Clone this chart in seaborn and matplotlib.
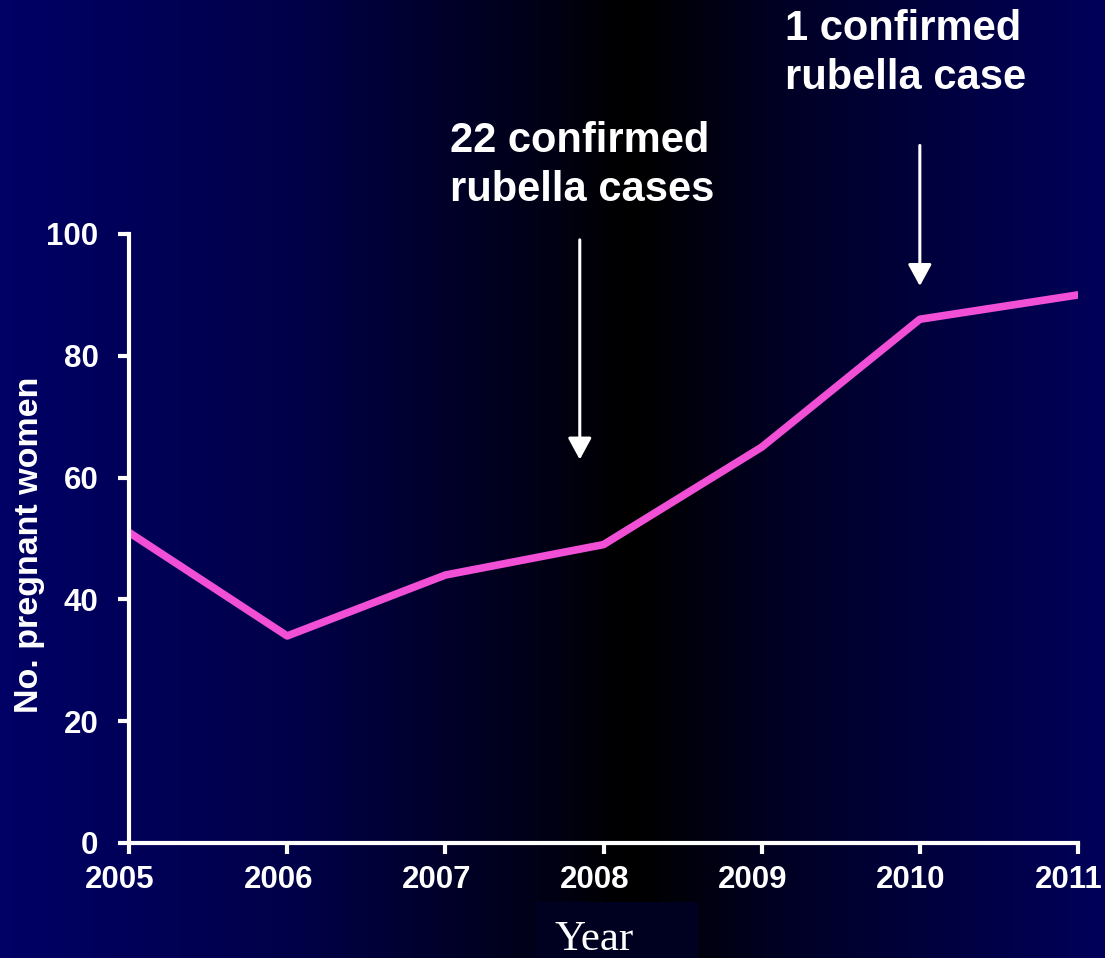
import numpy as np
import pandas as pd
import matplotlib
matplotlib.use("Agg")
import matplotlib.pyplot as plt
from matplotlib.patches import Rectangle
from matplotlib.transforms import ScaledTranslation
import seaborn as sns

years = [2005, 2006, 2007, 2008, 2009, 2010, 2011]
pregnant_women = [51, 34, 44, 49, 65, 86, 90]
y_ticks = [0, 20, 40, 60, 80, 100]
annot_2008 = "22 confirmed\nrubella cases"
annot_2010 = "1 confirmed\nrubella case"

sns.set_theme(style="white")
plt.rcParams['font.family'] = ['Liberation Sans', 'DejaVu Sans']

fig = plt.figure(figsize=(11.05, 9.58), dpi=100)

# background gradient
bg = fig.add_axes([0, 0, 1, 1], zorder=-10)
W = 1105
xs = np.arange(W)
stops_x = [0, 300, 560, 610, 640, 800, 1104]
stops_b = [0x66, 0x48, 0x12, 0x03, 0x00, 0x28, 0x5a]
blue = np.interp(xs, stops_x, stops_b) / 255.0
img = np.zeros((2, W, 3))
img[:, :, 2] = blue
bg.imshow(img, aspect='auto', extent=[0, 1, 0, 1])
bg.set_xlim(0, 1)
bg.set_ylim(0, 1)
bg.add_patch(Rectangle((535/1105, 0), (698-535)/1105, (958-902)/958,
                       facecolor='#000020', edgecolor='none'))
bg.set_axis_off()
fig.patch.set_facecolor('#000040')

ax = fig.add_axes([129/1105, 1-843/958, (1078-129)/1105, (843-234)/958])
ax.patch.set_alpha(0)
df = pd.DataFrame({"Year": years, "Count": pregnant_women})
sns.lineplot(data=df, x="Year", y="Count", ax=ax, color="#f04fd6", linewidth=5.5)

ax.set_xlim(2005, 2011)
ax.set_ylim(0, 100)
ax.set_xticks(years)
ax.set_yticks(y_ticks)
ax.set_xticklabels([str(y) for y in years], fontsize=22.5, fontweight='bold', color='white')
ax.set_yticklabels([str(v) for v in y_ticks], fontsize=22.5, fontweight='bold', color='white')
for s in ['top', 'right']:
    ax.spines[s].set_visible(False)
for s in ['left', 'bottom']:
    ax.spines[s].set_color('white')
    ax.spines[s].set_linewidth(3)
ax.tick_params(axis='both', colors='white', length=8, width=3, direction='out',
               bottom=True, left=True)
ax.tick_params(axis='y', pad=14)
ax.tick_params(axis='x', pad=8)
shift = ScaledTranslation(-9/100, 0, fig.dpi_scale_trans)
for lbl in ax.get_xticklabels():
    lbl.set_transform(lbl.get_transform() + shift)
ax.set_xlabel("")
ax.set_ylabel("No. pregnant women", fontsize=24.5, fontweight='bold', color='white')
ax.yaxis.set_label_coords(-(129-45)/949, 0.49)
ax.grid(False)

# arrows
arrow_style = '-|>,head_length=1.1,head_width=0.6'
ax.annotate("", xy=(2007.85, 62.5), xytext=(2007.85, 99.5),
            arrowprops=dict(arrowstyle=arrow_style, color='white', lw=2.2),
            annotation_clip=False)
ax.annotate("", xy=(2010.0, 91), xytext=(2010.0, 115),
            arrowprops=dict(arrowstyle=arrow_style, color='white', lw=2.2),
            annotation_clip=False)

fig.text(450/1105, 1-121/958, annot_2008, fontsize=30, fontweight='bold', color='white',
         ha='left', va='top', linespacing=1.3)
fig.text(785/1105, 1-9/958, annot_2010, fontsize=30, fontweight='bold', color='white',
         ha='left', va='top', linespacing=1.3)

fig.text(594/1105, 1-940/958, "Year", fontsize=31, color='white',
         family=['Liberation Serif', 'DejaVu Serif'], ha='center', va='center')

fig.savefig("out.png", dpi=100, facecolor=fig.get_facecolor())
